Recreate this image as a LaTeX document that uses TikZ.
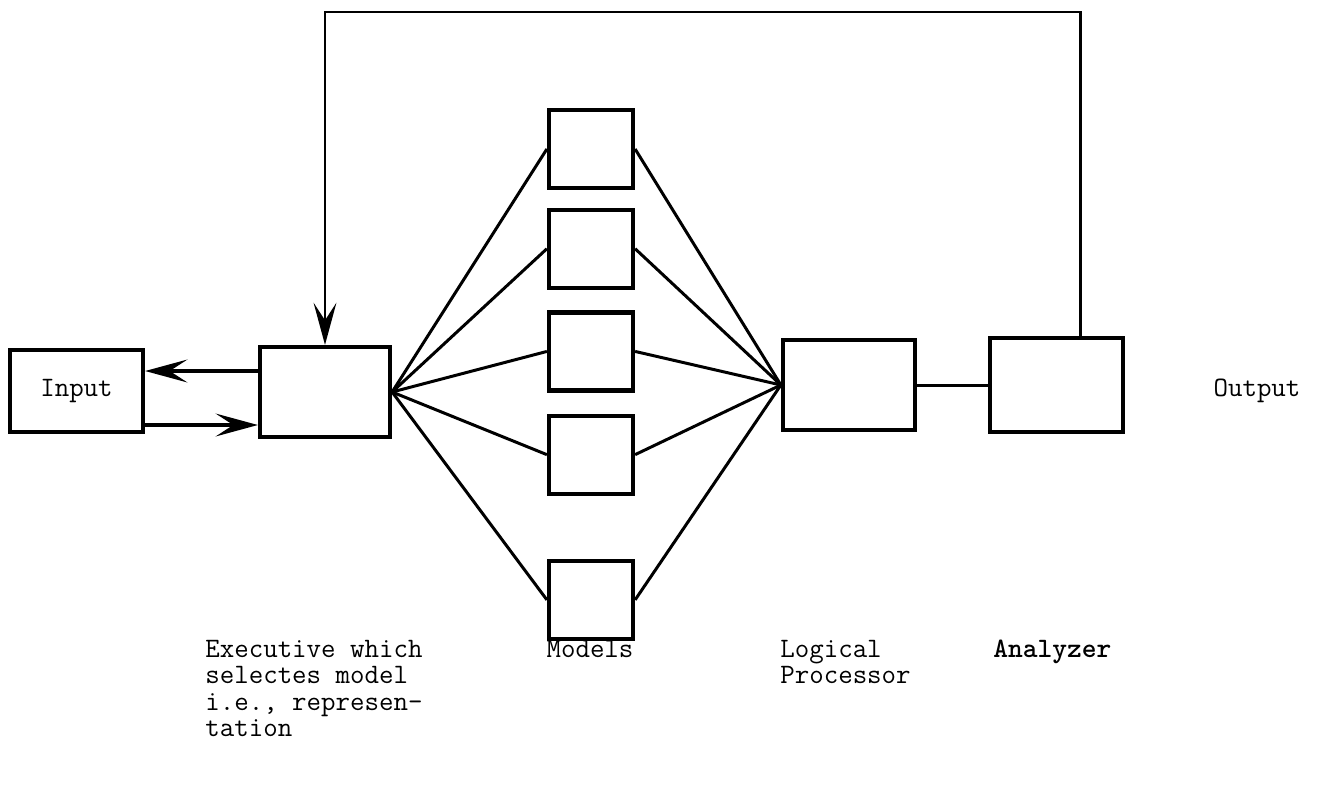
\documentclass[tikz,border=0pt]{standalone}
\usetikzlibrary{positioning,arrows.meta}

\begin{document}
\begin{tikzpicture}[
  node distance=0.45cm and 0.4cm,
  every node/.style={font=\ttfamily\fontsize{16}{15}\selectfont},
  blk/.style={draw, rectangle, line width=2.4pt, minimum width=2.64cm, minimum height=1.8cm, inner sep=0pt},
  mdl/.style={blk, minimum width=1.68cm, minimum height=1.56cm},
  lbl/.style={align=left, inner sep=0pt},
  arr/.style={-{Stealth[length=24pt,width=13pt,inset=10pt]}, line width=2.2pt},
  link/.style={line width=1.7pt}
]
  \useasboundingbox (0,0) rectangle (26.5,-15.96);

  % main chain
  \node[blk, minimum width=2.66cm, minimum height=1.64cm] (input) at (1.53,-7.82) {Input};
  \node[blk, minimum width=2.6cm] (exec) at (6.5,-7.84) {};
  \node[blk] (lp) at (16.98,-7.70) {};
  \node[blk, minimum width=2.66cm, minimum height=1.88cm] (ana) at (21.13,-7.70) {};
  \node (out) at (25.14,-7.82) {Output};

  % the model boxes
  \node[mdl] (m1) at (11.82,-2.98) {};
  \node[mdl, below=0.35cm of m1] (m2) {};
  \node[mdl, below=0.41cm of m2] (m3) {};
  \node[mdl, below=0.42cm of m3] (m4) {};
  \node[mdl, below=1.26cm of m4] (m5) {};

  % captions
  \node[lbl, anchor=north west] (execlbl) at (4.1,-12.8) {Executive which\\selectes model\\i.e., represen-\\tation};
  \node[lbl, anchor=north] (mdllbl) at (11.8,-12.8) {Models};
  \node[lbl, anchor=north west] (lplbl) at (15.6,-12.8) {Logical\\Processor};
  \node[lbl, anchor=north west, font=\ttfamily\bfseries\fontsize{16}{15}\selectfont] (analbl) at (19.86,-12.8) {Analyzer};

  \draw[arr] ([yshift=0.42cm]exec.west) -- ([yshift=0.42cm]exec.west -| input.east);
  \draw[arr] ([yshift=-0.66cm]exec.west -| input.east) -- ([yshift=-0.66cm]exec.west);

  \foreach \m in {m1,m2,m3,m4,m5} {
    \draw[link] (exec.east) -- (\m.west);
    \draw[link] (\m.east) -- (lp.west);
  }

  \draw[link] (lp.east) -- (ana.west |- lp.east);

  % feedback from the analyzer
  \coordinate (top) at (0,-0.24);
  \draw[arr, line width=1.7pt] ([xshift=0.47cm]ana.north) |- (top -| exec.north) -- (exec.north);
\end{tikzpicture}
\end{document}
